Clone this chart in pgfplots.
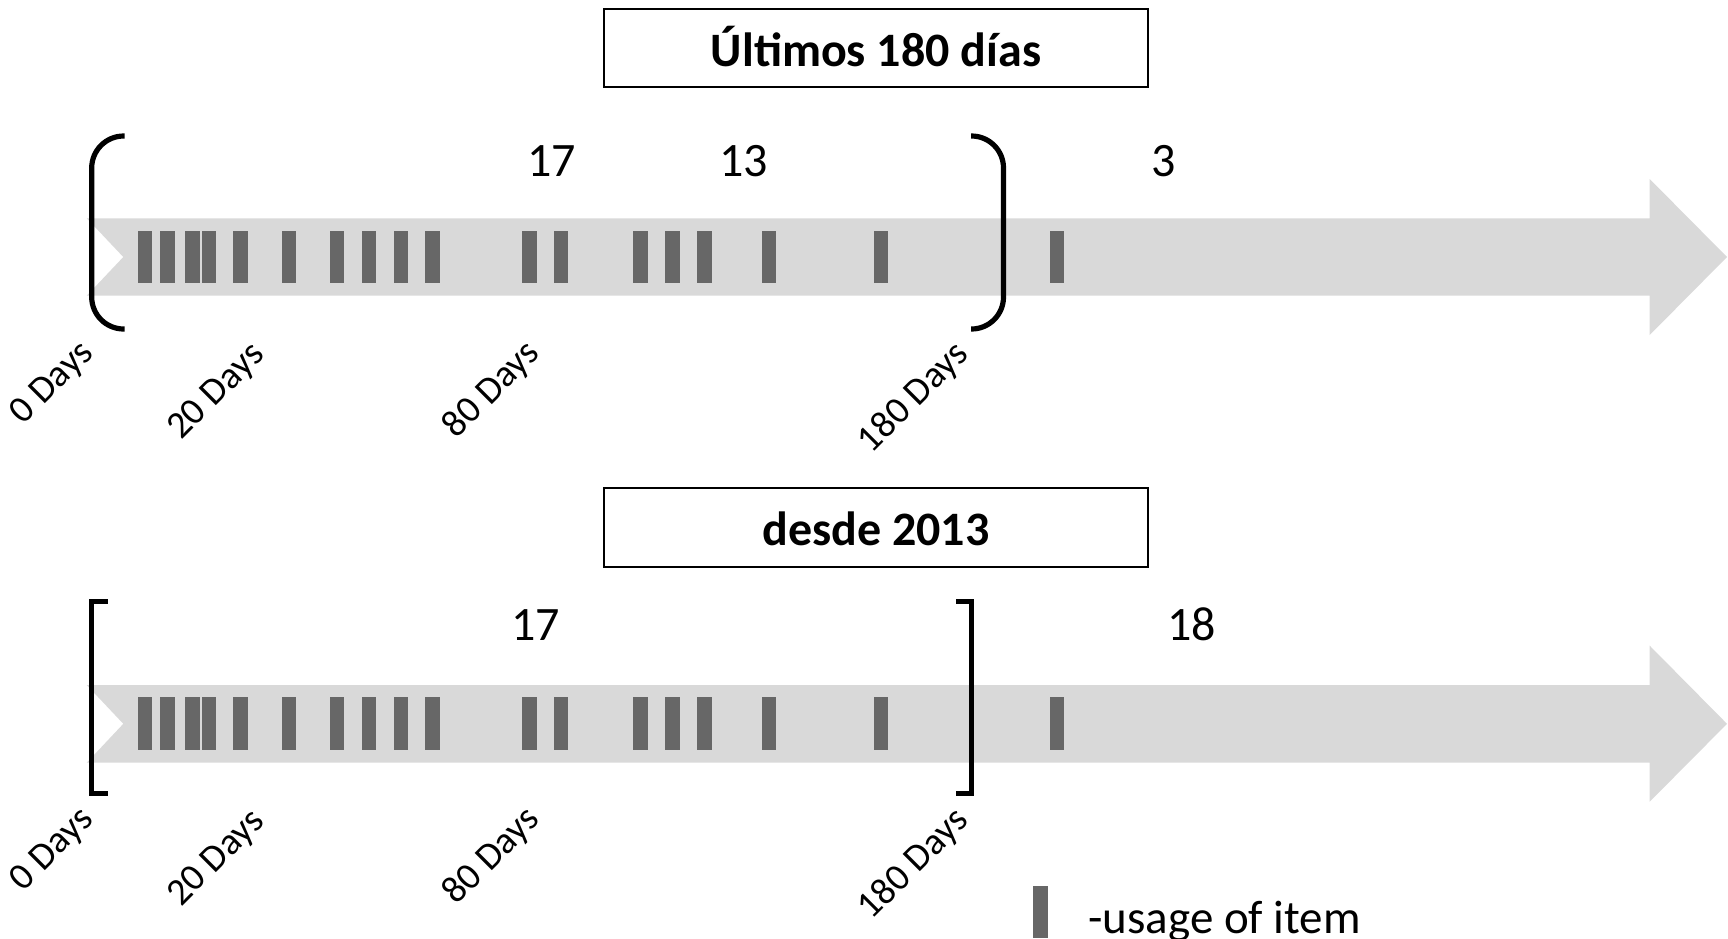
\documentclass[border=0pt]{standalone}
\usepackage{pgfplots}
\pgfplotsset{compat=1.18}
\usepackage{fontspec}
\setmainfont{Carlito}
\definecolor{band}{HTML}{D9D9D9}
\definecolor{usage}{HTML}{676767}
\pgfdeclareplotmark{usage}{%
  \pgfsetcornersarced{\pgfpoint{1.3pt}{1.3pt}}%
  \pgfpathrectanglecorners{\pgfpoint{-3.7pt}{-13.2pt}}{\pgfpoint{3.7pt}{13.2pt}}%
  \pgfusepathqfill}
\begin{document}
\begin{tikzpicture}
\begin{axis}[
  scale only axis, width=864pt, height=469pt,
  xmin=0, xmax=1728, ymin=0, ymax=938, y dir=reverse,
  hide axis, clip=false]
% ---------- top timeline ----------
\addplot[fill=band, draw=none] coordinates {(86.7,218.3) (1649.7,218.3) (1649.7,179) (1727,257) (1649.7,335) (1649.7,295.7) (86.7,295.7) (123.3,257)} -- cycle;
\addplot[only marks, mark=usage, color=usage] coordinates {
(145.0,257) (167.2,257) (192.7,257) (208.9,257) (240.7,257) (288.9,257)
(336.9,257) (368.9,257) (401.0,257) (432.8,257) (529.2,257) (561.0,257)
(640.7,257) (672.8,257) (704.8,257) (768.9,257) (881.0,257) (1057.0,257)};
\addplot[black, line width=2.6pt, rounded corners=16pt] coordinates {(124.5,136) (91.7,136) (91.7,329) (124.5,329)};
\addplot[black, line width=2.6pt, rounded corners=16pt] coordinates {(971,136) (1003.5,136) (1003.5,329) (971,329)};
% ---------- bottom timeline ----------
\addplot[fill=band, draw=none] coordinates {(86.7,685) (1649.7,685) (1649.7,645.7) (1727,723.8) (1649.7,801.7) (1649.7,762.7) (86.7,762.7) (123.3,723.8)} -- cycle;
\addplot[only marks, mark=usage, color=usage] coordinates {
(145.0,723.8) (167.2,723.8) (192.7,723.8) (208.9,723.8) (240.7,723.8) (288.9,723.8)
(336.9,723.8) (368.9,723.8) (401.0,723.8) (432.8,723.8) (529.2,723.8) (561.0,723.8)
(640.7,723.8) (672.8,723.8) (704.8,723.8) (768.9,723.8) (881.0,723.8) (1057.0,723.8)};
\addplot[black, line width=2.4pt, line join=miter] coordinates {(107.5,601.7) (91.6,601.7) (91.6,793.3) (107.5,793.3)};
\addplot[black, line width=2.4pt, line join=miter] coordinates {(956,601.7) (971.7,601.7) (971.7,793.3) (956,793.3)};
% ---------- legend mark ----------
\addplot[only marks, mark=usage, color=usage] coordinates {(1040.8,912)};
% ---------- titles ----------
\draw[line width=1pt] (604,9) rectangle (1148,87);
\node[anchor=base, inner sep=0pt, font=\fontsize{24}{28}\selectfont\bfseries] at (876,66) {Últimos 180 días};
\draw[line width=1pt] (604,488.3) rectangle (1148,567.3);
\node[anchor=base, inner sep=0pt, font=\fontsize{24}{28}\selectfont\bfseries] at (876,545) {desde 2013};
% ---------- counts ----------
\node[anchor=base, inner sep=0pt, font=\fontsize{24}{28}\selectfont] at (551.6,176.7) {17};
\node[anchor=base, inner sep=0pt, font=\fontsize{24}{28}\selectfont] at (743.6,176.5) {13};
\node[anchor=base, inner sep=0pt, font=\fontsize{24}{28}\selectfont] at (1163.4,176.7) {3};
\node[anchor=base, inner sep=0pt, font=\fontsize{24}{28}\selectfont] at (535.8,640) {17};
\node[anchor=base, inner sep=0pt, font=\fontsize{24}{28}\selectfont] at (1191.7,640) {18};
% ---------- day labels ----------
\node[rotate=45, inner sep=0pt, font=\fontsize{19}{22}\selectfont] at (52.6,383.5) {0 Days};
\node[rotate=45, inner sep=0pt, font=\fontsize{19}{22}\selectfont] at (217,392) {20 Days};
\node[rotate=45, inner sep=0pt, font=\fontsize{19}{22}\selectfont] at (492,390) {80 Days};
\node[rotate=45, inner sep=0pt, font=\fontsize{19}{22}\selectfont] at (914,398) {180 Days};
\node[rotate=45, inner sep=0pt, font=\fontsize{19}{22}\selectfont] at (52.6,850) {0 Days};
\node[rotate=45, inner sep=0pt, font=\fontsize{19}{22}\selectfont] at (217,858.5) {20 Days};
\node[rotate=45, inner sep=0pt, font=\fontsize{19}{22}\selectfont] at (492,856.5) {80 Days};
\node[rotate=45, inner sep=0pt, font=\fontsize{19}{22}\selectfont] at (914,864.5) {180 Days};
% ---------- legend text ----------
\node[anchor=base west, inner sep=0pt, font=\fontsize{23.5}{28}\selectfont] at (1088,933) {-usage of item};
\end{axis}
\pgfresetboundingbox
\path[use as bounding box] (current axis.south west) rectangle (current axis.north east);
\end{tikzpicture}
\end{document}
